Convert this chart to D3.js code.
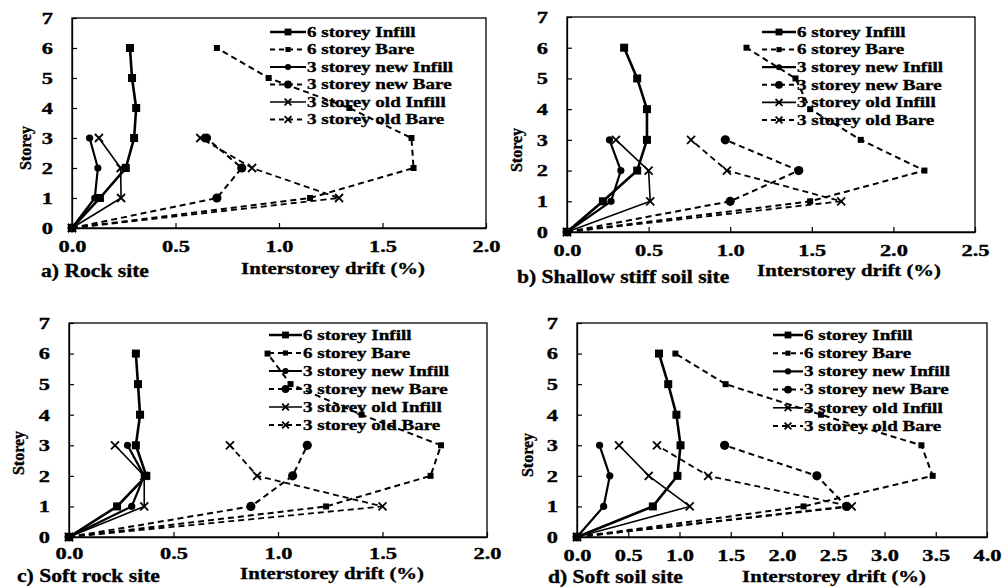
<!DOCTYPE html>
<html><head><meta charset="utf-8">
<script src="https://cdn.jsdelivr.net/npm/d3@7"></script>
<style>html,body{margin:0;padding:0;background:#fff;}svg{display:block;}</style>
</head><body>
<svg id="c" width="1003" height="587"></svg>
<script>
// ---------- DATA ----------
const storeys6 = [0,1,2,3,4,5,6];
const storeys3 = [0,1,2,3];
const seriesNames = ["6 storey Infill","6 storey Bare","3 storey new Infill","3 storey new Bare","3 storey old Infill","3 storey old Bare"];
const panelTitles = ["a) Rock site","b) Shallow stiff soil site","c) Soft rock site","d) Soft soil site"];
const xAxisTitle = "Interstorey drift (%)";
const yAxisTitle = "Storey";
const yTicks = [0,1,2,3,4,5,6,7];
const xTicksA = [0,0.5,1.0,1.5,2.0];
const xTicksB = [0,0.5,1.0,1.5,2.0,2.5];
const xTicksC = [0,0.5,1.0,1.5,2.0];
const xTicksD = [0,0.5,1.0,1.5,2.0,2.5,3.0,3.5,4.0];

// a) Rock site
const rock6Infill   = [0,0.135,0.26,0.30,0.31,0.29,0.28];
const rock6Bare     = [0,1.15,1.65,1.64,1.34,0.95,0.70];
const rock3NewInfill= [0,0.11,0.125,0.085];
const rock3NewBare  = [0,0.70,0.82,0.65];
const rock3OldInfill= [0,0.237,0.235,0.13];
const rock3OldBare  = [0,1.29,0.87,0.62];
// b) Shallow stiff soil site
const stiff6Infill   = [0,0.22,0.43,0.49,0.49,0.43,0.35];
const stiff6Bare     = [0,1.49,2.19,1.80,1.49,1.40,1.10];
const stiff3NewInfill= [0,0.27,0.33,0.26];
const stiff3NewBare  = [0,1.00,1.42,0.97];
const stiff3OldInfill= [0,0.51,0.50,0.30];
const stiff3OldBare  = [0,1.68,0.98,0.76];
// c) Soft rock site
const softRock6Infill   = [0,0.23,0.37,0.32,0.34,0.33,0.32];
const softRock6Bare     = [0,1.23,1.73,1.78,1.40,1.06,0.95];
const softRock3NewInfill= [0,0.30,0.36,0.28];
const softRock3NewBare  = [0,0.87,1.07,1.14];
const softRock3OldInfill= [0,0.36,0.36,0.22];
const softRock3OldBare  = [0,1.50,0.90,0.77];
// d) Soft soil site
const softSoil6Infill   = [0,0.74,0.98,1.01,0.97,0.89,0.80];
const softSoil6Bare     = [0,2.21,3.47,3.36,2.38,1.45,0.96];
const softSoil3NewInfill= [0,0.26,0.32,0.22];
const softSoil3NewBare  = [0,2.63,2.34,1.44];
const softSoil3OldInfill= [0,1.10,0.70,0.41];
const softSoil3OldBare  = [0,2.68,1.28,0.78];

// ---------- STYLE / LAYOUT ----------
const seriesStyle = [
  {dash:null,  w:2.6, mk:"sq", s:8},
  {dash:"6,4", w:2.0, mk:"sq", s:6},
  {dash:null,  w:2.2, mk:"ci", s:3.6},
  {dash:"6,4", w:2.0, mk:"ci", s:4.6},
  {dash:null,  w:1.6, mk:"x",  s:4},
  {dash:"6,4", w:1.8, mk:"x",  s:4}
];
const FONT = "'Liberation Serif','Times New Roman',Times,serif";

const panels = [
  {left:72, right:486, top:18, bottom:228, xmax:2.0, xt:xTicksA, title:panelTitles[0], tko:19,
   data:[rock6Infill,rock6Bare,rock3NewInfill,rock3NewBare,rock3OldInfill,rock3OldBare],
   tlx:41, tly:271, axx:333, axy:268, axs:17, ylx:25, yly:148, legX:270, legW:36, legY:32, legDy:17.5},
  {left:567, right:975, top:17, bottom:232, xmax:2.5, xt:xTicksB, title:panelTitles[1], tko:19,
   data:[stiff6Infill,stiff6Bare,stiff3NewInfill,stiff3NewBare,stiff3OldInfill,stiff3OldBare],
   tlx:517, tly:277, axx:849, axy:270, axs:17, ylx:516, yly:150, legX:762, legW:34, legY:32, legDy:17.6},
  {left:69, right:487, top:323, bottom:537, xmax:2.0, xt:xTicksC, title:panelTitles[2], tko:17,
   data:[softRock6Infill,softRock6Bare,softRock3NewInfill,softRock3NewBare,softRock3OldInfill,softRock3OldBare],
   tlx:17, tly:576, axx:332, axy:573, axs:16, ylx:18, yly:453, legX:269, legW:33, legY:335, legDy:18},
  {left:577, right:987, top:323, bottom:537, xmax:4.0, xt:xTicksD, title:panelTitles[3], tko:19,
   data:[softSoil6Infill,softSoil6Bare,softSoil3NewInfill,softSoil3NewBare,softSoil3OldInfill,softSoil3OldBare],
   tlx:548, tly:577, axx:834, axy:576, axs:17, ylx:527, yly:455, legX:773, legW:30, legY:335, legDy:18.2}
];

const svg = d3.select("#c");
svg.append("rect").attr("width",1003).attr("height",587).attr("fill","#fff");

function styleText(sel, size){
  sel.attr("font-family", FONT).attr("font-weight","bold").attr("font-size", size)
     .attr("fill","#000").attr("stroke","#000").attr("stroke-width",0.35);
}
function txt(g, x, y, str, size, sx, anchor, rot){
  const t = g.append("text")
    .attr("transform", `translate(${x},${y})` + (rot?` rotate(${rot})`:"") + ` scale(${sx},1)`)
    .attr("text-anchor", anchor||"start").attr("dominant-baseline","central").text(str);
  styleText(t, size);
  return t;
}

function marker(g, type, cx, cy, s){
  if(type==="sq"){
    g.append("rect").attr("x",cx-s/2).attr("y",cy-s/2).attr("width",s).attr("height",s).attr("fill","#000");
  } else if(type==="ci"){
    g.append("circle").attr("cx",cx).attr("cy",cy).attr("r",s).attr("fill","#000");
  } else {
    g.append("path").attr("d",`M${cx-s},${cy-s}L${cx+s},${cy+s}M${cx-s},${cy+s}L${cx+s},${cy-s}`)
      .attr("stroke","#000").attr("stroke-width",1.8).attr("fill","none");
  }
}

panels.forEach(p=>{
  const g = svg.append("g");
  const x = d3.scaleLinear().domain([0,p.xmax]).range([p.left,p.right]);
  const y = d3.scaleLinear().domain([0,7]).range([p.bottom,p.top]);

  g.append("rect").attr("x",p.left).attr("y",p.top).attr("width",p.right-p.left).attr("height",p.bottom-p.top)
    .attr("fill","#fff").attr("stroke","#000").attr("stroke-width",1.3);

  // axes (ticks inside)
  const xa = g.append("g").attr("transform",`translate(0,${p.bottom})`)
    .call(d3.axisBottom(x).tickValues(p.xt).tickSizeInner(-5).tickSizeOuter(0).tickFormat(d3.format(".1f")));
  xa.select(".domain").attr("stroke","#000").attr("stroke-width",1.3);
  xa.selectAll(".tick line").attr("stroke","#000").attr("stroke-width",1.2);
  styleText(xa.selectAll(".tick text").attr("y",p.tko).attr("dy",null).attr("dominant-baseline","central")
    .attr("transform","scale(1.4,1)"), 16);

  const ya = g.append("g").attr("transform",`translate(${p.left},0)`)
    .call(d3.axisLeft(y).tickValues(yTicks).tickSizeInner(-5).tickSizeOuter(0).tickFormat(d3.format("d")));
  ya.select(".domain").attr("stroke","#000").attr("stroke-width",1.3);
  ya.selectAll(".tick line").attr("stroke","#000").attr("stroke-width",1.2);
  styleText(ya.selectAll(".tick text").attr("x",-19/1.4).attr("dy",null).attr("dominant-baseline","central")
    .attr("transform","scale(1.4,1)"), 16);

  // series
  p.data.forEach((vals,i)=>{
    const st = seriesStyle[i];
    const ys = vals.length===7 ? storeys6 : storeys3;
    const pts = vals.map((v,k)=>[x(v), y(ys[k])]);
    g.append("path").attr("d", d3.line()(pts)).attr("fill","none").attr("stroke","#000")
      .attr("stroke-width",st.w).attr("stroke-dasharray",st.dash);
    pts.forEach(pt=>marker(g, st.mk, pt[0], pt[1], st.s));
  });

  // legend
  seriesNames.forEach((nm,i)=>{
    const st = seriesStyle[i];
    const ly = p.legY + i*p.legDy;
    g.append("line").attr("x1",p.legX).attr("x2",p.legX+p.legW).attr("y1",ly).attr("y2",ly)
      .attr("stroke","#000").attr("stroke-width",st.w).attr("stroke-dasharray",st.dash?"5,4":null);
    marker(g, st.mk, p.legX+p.legW/2, ly, st.s*0.85);
    txt(g, p.legX+p.legW+1, ly, nm, 15, 1.27, "start");
  });

  // titles
  txt(g, p.tlx, p.tly, p.title, 18, 1.2, "start");
  txt(g, p.axx, p.axy, xAxisTitle, p.axs, 1.22*17/p.axs, "middle");
  txt(g, p.ylx, p.yly, yAxisTitle, 16, 1.0, "middle", -90);
});
</script>
</body></html>
